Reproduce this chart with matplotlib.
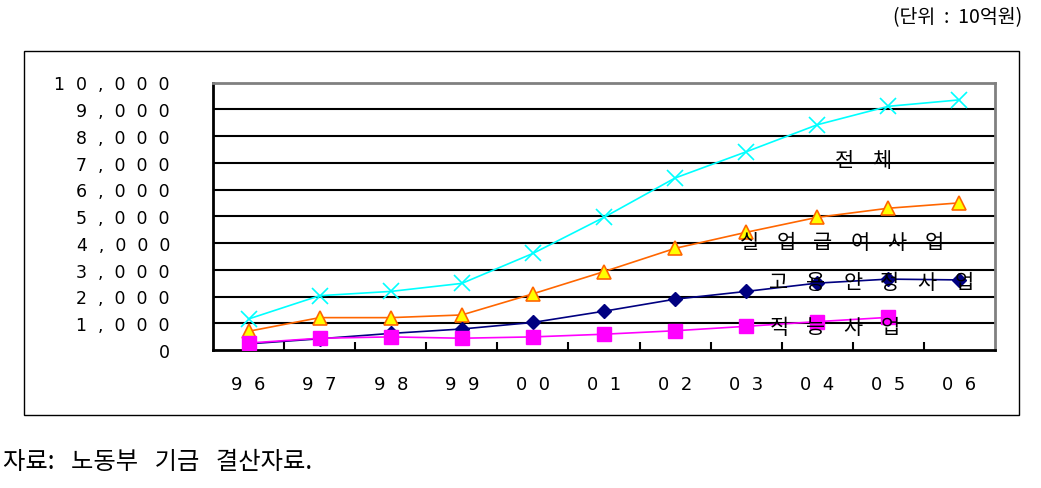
import numpy as np
import matplotlib
matplotlib.use("Agg")
import matplotlib.pyplot as plt
from matplotlib.patches import Rectangle
from matplotlib.transforms import offset_copy

plt.rcParams['font.family'] = ['Noto Sans CJK KR', 'DejaVu Sans']

# 데이터 (단위: 10억원)
years = ["96", "97", "98", "99", "00", "01", "02", "03", "04", "05", "06"]
total = [1160, 2030, 2190, 2490, 3610, 4960, 6430, 7410, 8420, 9110, 9350]
unemp = [700, 1210, 1210, 1310, 2100, 2930, 3800, 4400, 4960, 5300, 5500]
employ = [230, 420, 620, 785, 1030, 1450, 1900, 2190, 2500, 2650, 2620]
skill = [260, 440, 490, 440, 490, 590, 720, 885, 1060, 1220]

yticks = np.arange(0, 10001, 1000)

fig = plt.figure(figsize=(10.41, 4.89), dpi=100)
ax = fig.add_axes([213 / 1041, 1 - 351 / 489, 782 / 1041, 267.5 / 489])

x = np.arange(len(years))
ax.plot(x, total, color="#00FFFF", lw=1.2, marker="x", ms=11, mew=1.2, zorder=3)
ax.plot(x, unemp, color="#FF6600", lw=1.2, marker="^", ms=10, mfc="#FFFF00", mec="#FF6600", mew=1.2, zorder=3)
ax.plot(x, employ, color="#000080", lw=1.2, marker="D", ms=7, mfc="#000080", mec="#000080", zorder=3)
ax.plot(x[:len(skill)], skill, color="#FF00FF", lw=1.2, marker="s", ms=10, mfc="#FF00FF", mec="#FF00FF", zorder=4)

ax.set_xlim(-0.5, len(years) - 0.5)
ax.set_ylim(0, 10000)
for v in yticks[1:-1]:
    ax.axhline(v, color="black", lw=1.5, zorder=1)

ax.set_yticks(yticks)
ax.set_yticklabels(["  ".join(f"{v:,}") for v in yticks], fontsize=12.5, family="DejaVu Sans")
ax.tick_params(axis="y", length=0, pad=31)
ax.set_xticks(x)
ax.set_xticklabels(["  ".join(y) for y in years], fontsize=13, family="DejaVu Sans")
ax.tick_params(axis="x", which="major", length=0, pad=18)
ax.set_xticks(np.arange(0.5, len(years) - 0.5, 1), minor=True)
ax.tick_params(axis="x", which="minor", direction="in", length=6, width=1.5)

for s in ["left", "bottom"]:
    ax.spines[s].set_color("black")
    ax.spines[s].set_linewidth(2)
for s in ["top", "right"]:
    ax.spines[s].set_color("#808080")
    ax.spines[s].set_linewidth(2)


def spaced(xc, y, word, pitch=37):
    # 글자 간격을 넓게 벌려서 한 글자씩 찍기
    n = len(word)
    for i, ch in enumerate(word):
        dx = (i - (n - 1) / 2) * pitch
        tr = offset_copy(ax.transData, fig=fig, x=dx * 72 / fig.dpi, y=0, units="points")
        ax.text(xc, y, ch, transform=tr, fontsize=15, ha="center", va="center", zorder=5)


# 계열 이름
spaced(8.65, 7110, "전체")
spaced(8.34, 4040, "실업급여사업")
spaced(8.76, 2540, "고용안정사업")
spaced(8.24, 860, "직능사업")

# 바깥 테두리
fig.patches.append(Rectangle((24 / 1041, 1 - 416 / 489), 995 / 1041, 364 / 489,
                             transform=fig.transFigure, fill=False, edgecolor="black", lw=1))

fig.text(1022 / 1041, 1 - 18 / 489, "(단위  :  10억원)", fontsize=14, ha="right", va="center")
fig.text(3 / 1041, 1 - 462 / 489, "자료:   노동부   기금   결산자료.", fontsize=17.5, ha="left", va="center")

fig.savefig("out.png", dpi=100)
